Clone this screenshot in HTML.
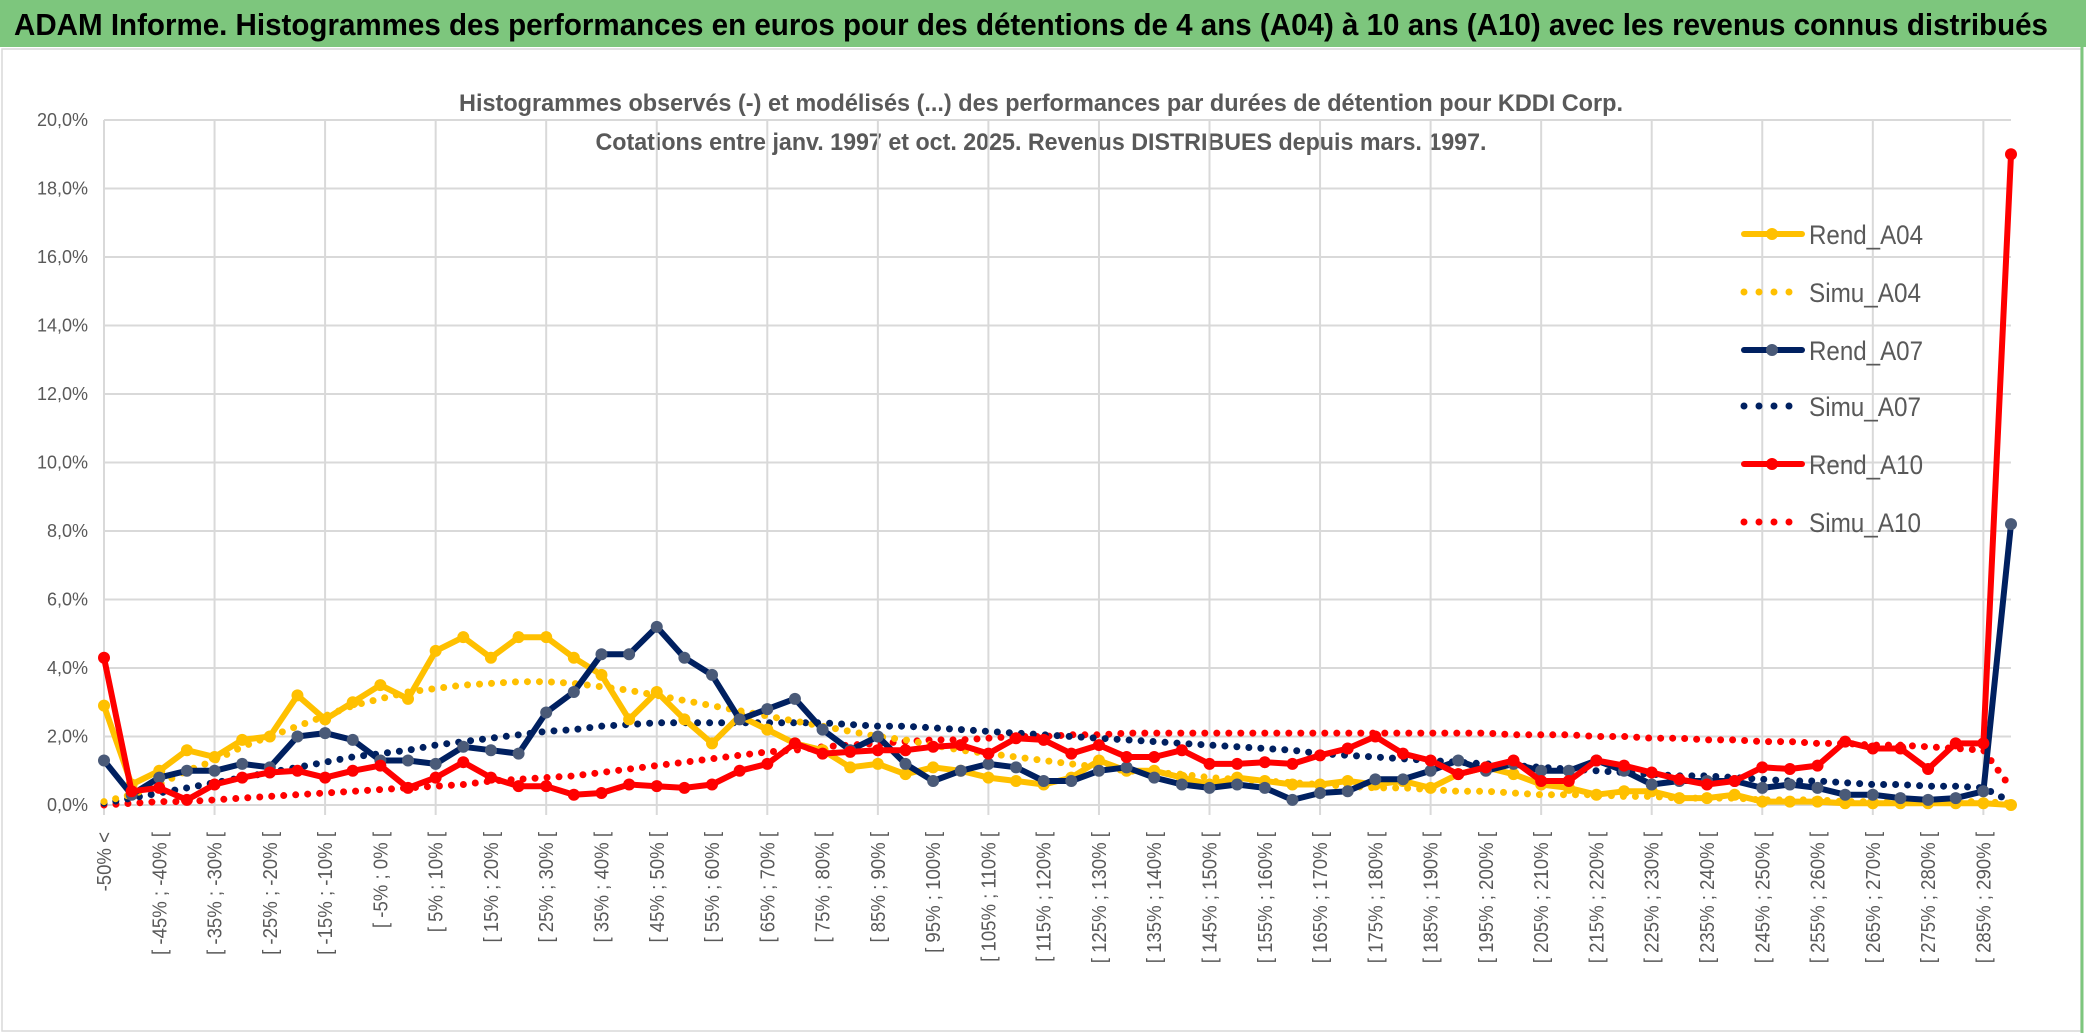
<!DOCTYPE html>
<html><head><meta charset="utf-8"><style>
html,body{margin:0;padding:0;background:#fff;}
svg{display:block;font-family:"Liberation Sans",sans-serif;}
</style></head><body>
<svg id="chart" width="2086" height="1033" viewBox="0 0 2086 1033" xmlns="http://www.w3.org/2000/svg">
<rect x="0" y="0" width="2086" height="1033" fill="#fff"/>
<rect x="0" y="0" width="2086" height="47" fill="#7dc67d"/>
<text x="14" y="35" font-size="31" font-weight="bold" fill="#000" textLength="2034" lengthAdjust="spacingAndGlyphs">ADAM Informe. Histogrammes des performances en euros pour des détentions de 4 ans (A04) à 10 ans (A10) avec les revenus connus distribués</text>
<rect x="2" y="49" width="2079" height="982" fill="none" stroke="#d9d9d9" stroke-width="1.5"/>
<line x1="2082" y1="47" x2="2082" y2="1033" stroke="#7dc67d" stroke-width="3"/>
<text x="1041" y="111" font-size="24" font-weight="bold" fill="#595959" text-anchor="middle" textLength="1164" lengthAdjust="spacingAndGlyphs">Histogrammes observés (-) et modélisés (...) des performances par durées de détention pour KDDI Corp.</text>
<text x="1041" y="150" font-size="24" font-weight="bold" fill="#595959" text-anchor="middle" textLength="891" lengthAdjust="spacingAndGlyphs">Cotations entre janv. 1997 et oct. 2025. Revenus DISTRIBUES depuis mars. 1997.</text>
<g id="grid"></g><g id="axes"></g><g id="series"></g><g id="legend"></g>
</svg>
<script>
const yTicks = [0,2,4,6,8,10,12,14,16,18,20];
const yTickLabels = ["0,0%","2,0%","4,0%","6,0%","8,0%","10,0%","12,0%","14,0%","16,0%","18,0%","20,0%"];
const categories = ["-50% <"];
for (let k=1;k<70;k++){const lo=-50+5*(k-1);categories.push("[ "+lo+"% ; "+(lo+5)+"% [");}
const rendA04 = [2.9,0.6,1.0,1.6,1.4,1.9,2.0,3.2,2.5,3.0,3.5,3.1,4.5,4.9,4.3,4.9,4.9,4.3,3.8,2.5,3.3,2.5,1.8,2.6,2.2,1.8,1.6,1.1,1.2,0.9,1.1,1.0,0.8,0.7,0.6,0.8,1.3,1.0,1.0,0.8,0.6,0.8,0.7,0.6,0.6,0.7,0.6,0.7,0.5,0.9,1.1,0.9,0.6,0.5,0.3,0.4,0.4,0.2,0.2,0.3,0.1,0.1,0.1,0.05,0.05,0.05,0.05,0.05,0.05,0.0];
const simuA04 = [0.1,0.3,0.6,1.0,1.3,1.7,2.0,2.3,2.6,2.9,3.1,3.3,3.4,3.5,3.55,3.6,3.6,3.55,3.45,3.35,3.2,3.05,2.9,2.75,2.6,2.45,2.3,2.15,2.0,1.9,1.75,1.6,1.5,1.4,1.3,1.2,1.1,1.0,0.95,0.9,0.8,0.75,0.7,0.65,0.6,0.55,0.5,0.5,0.45,0.4,0.4,0.35,0.3,0.3,0.3,0.25,0.25,0.2,0.2,0.2,0.15,0.15,0.15,0.1,0.1,0.1,0.1,0.1,0.1,0.05];
const rendA07 = [1.3,0.3,0.8,1.0,1.0,1.2,1.1,2.0,2.1,1.9,1.3,1.3,1.2,1.7,1.6,1.5,2.7,3.3,4.4,4.4,5.2,4.3,3.8,2.5,2.8,3.1,2.2,1.6,2.0,1.2,0.7,1.0,1.2,1.1,0.7,0.7,1.0,1.1,0.8,0.6,0.5,0.6,0.5,0.15,0.35,0.4,0.75,0.75,1.0,1.3,1.0,1.2,1.0,1.0,1.3,1.0,0.6,0.7,0.7,0.7,0.5,0.6,0.5,0.3,0.3,0.2,0.15,0.2,0.4,8.2];
const simuA07 = [0.05,0.2,0.35,0.5,0.65,0.8,0.95,1.1,1.25,1.4,1.5,1.6,1.75,1.85,1.95,2.05,2.15,2.2,2.3,2.35,2.4,2.4,2.4,2.4,2.4,2.4,2.4,2.35,2.3,2.3,2.25,2.2,2.15,2.1,2.05,2.0,1.95,1.9,1.85,1.8,1.75,1.7,1.65,1.6,1.5,1.45,1.4,1.35,1.3,1.25,1.2,1.15,1.1,1.05,1.0,0.95,0.9,0.85,0.85,0.8,0.75,0.7,0.7,0.65,0.6,0.6,0.55,0.55,0.5,0.1];
const rendA10 = [4.3,0.4,0.5,0.15,0.6,0.8,0.95,1.0,0.8,1.0,1.15,0.5,0.8,1.25,0.8,0.55,0.55,0.3,0.35,0.6,0.55,0.5,0.6,1.0,1.2,1.8,1.5,1.55,1.6,1.6,1.7,1.75,1.5,1.95,1.9,1.5,1.75,1.4,1.4,1.6,1.2,1.2,1.25,1.2,1.45,1.65,2.0,1.5,1.3,0.9,1.1,1.3,0.7,0.7,1.3,1.15,0.95,0.75,0.6,0.7,1.1,1.05,1.15,1.85,1.65,1.65,1.05,1.8,1.8,19.0];
const simuA10 = [0.0,0.05,0.1,0.1,0.15,0.2,0.25,0.3,0.35,0.4,0.45,0.5,0.55,0.6,0.7,0.75,0.8,0.85,0.95,1.05,1.15,1.25,1.35,1.45,1.55,1.6,1.7,1.75,1.8,1.85,1.9,1.9,1.95,2.0,2.0,2.05,2.05,2.1,2.1,2.1,2.1,2.1,2.1,2.1,2.1,2.1,2.1,2.1,2.1,2.1,2.1,2.05,2.05,2.05,2.0,2.0,1.95,1.95,1.9,1.9,1.85,1.85,1.8,1.8,1.75,1.75,1.7,1.65,1.6,0.5];
const seriesNames = ["Rend_A04","Simu_A04","Rend_A07","Simu_A07","Rend_A10","Simu_A10"];

const NS="http://www.w3.org/2000/svg";
const X0=104, X1=2011, Y0=805, Y20=120;
function xPos(i){return X0+(X1-X0)*i/(categories.length-1);}
function yPos(v){return Y0-(Y0-Y20)*v/20;}
function mk(tag,attrs,parent){const e=document.createElementNS(NS,tag);for(const k in attrs)e.setAttribute(k,attrs[k]);parent.appendChild(e);return e;}
const grid=document.getElementById('grid'), axes=document.getElementById('axes'), ser=document.getElementById('series'), leg=document.getElementById('legend');

yTicks.forEach((t,i)=>{
  const l=mk('line',{x1:X0,x2:X1,y1:yPos(t),y2:yPos(t),stroke:'#d9d9d9','stroke-width':2},grid);
  
  
  const tx=mk('text',{x:88,y:yPos(t)+6,'font-size':18,fill:'#595959','text-anchor':'end'},axes);
  
  
  tx.textContent=yTickLabels[i];
});
for(let i=0;i<categories.length;i+=4){
  const l=mk('line',{x1:xPos(i),x2:xPos(i),y1:Y20,y2:Y0+10,stroke:'#d9d9d9','stroke-width':2},grid);
  
  
}
for(let i=0;i<categories.length;i+=2){
  const x=xPos(i)+7, y=832;
  const tx=mk('text',{x:x,y:y,'font-size':20,fill:'#595959','text-anchor':'end',transform:`rotate(-90 ${x} ${y}) scale(0.93 1)`},axes);
  
  
  tx.setAttribute('x', x/0.93);
  tx.setAttribute('transform',`rotate(-90 ${x} ${y}) translate(${x} 0) scale(0.93 1) translate(${-x} 0)`);
  tx.setAttribute('x', x);
  tx.textContent=categories[i];
}
function pts(arr){return arr.map((v,i)=>xPos(i).toFixed(1)+','+yPos(v).toFixed(1)).join(' ');}
function dotted(arr,color,name){
  const p=mk('polyline',{points:pts(arr),fill:'none',stroke:color,'stroke-width':7,'stroke-linecap':'round','stroke-dasharray':'0 12'},ser);
  
  
}
function solid(arr,color,mcolor,name){
  const p=mk('polyline',{points:pts(arr),fill:'none',stroke:color,'stroke-width':6,'stroke-linejoin':'round'},ser);
  
  
  arr.forEach((v,i)=>{
    const c=mk('circle',{cx:xPos(i),cy:yPos(v),r:6,fill:mcolor},ser);
    
    
  });
}
dotted(simuA10,'#ff0000','simu-a10-line');
dotted(simuA07,'#002060','simu-a07-line');
dotted(simuA04,'#ffc000','simu-a04-line');
solid(rendA04,'#ffc000','#ffc000','rend-a04-line');
solid(rendA07,'#002060','#4a5a78','rend-a07-line');
solid(rendA10,'#ff0000','#ff0000','rend-a10-line');

const legY=[234,292,350,406,464,522];
const legColor=['#ffc000','#ffc000','#002060','#002060','#ff0000','#ff0000'];
const legMarker=['#ffc000',null,'#4a5a78',null,'#ff0000',null];
const legWidth=[114,112,114,112,114,112];
seriesNames.forEach((n,i)=>{
  const g=mk('g',{},leg);
  
  
  if(legMarker[i]){
    mk('line',{x1:1744,x2:1802,y1:legY[i],y2:legY[i],stroke:legColor[i],'stroke-width':6,'stroke-linecap':'round'},g);
    mk('circle',{cx:1772,cy:legY[i],r:6,fill:legMarker[i]},g);
  } else {
    mk('line',{x1:1744,x2:1792,y1:legY[i],y2:legY[i],stroke:legColor[i],'stroke-width':7,'stroke-linecap':'round','stroke-dasharray':'0 15'},g);
  }
  const t=mk('text',{x:1809,y:legY[i]+10,'font-size':27,fill:'#595959',textLength:legWidth[i],lengthAdjust:'spacingAndGlyphs'},g);
  t.textContent=n;
});
</script>
</body></html>
